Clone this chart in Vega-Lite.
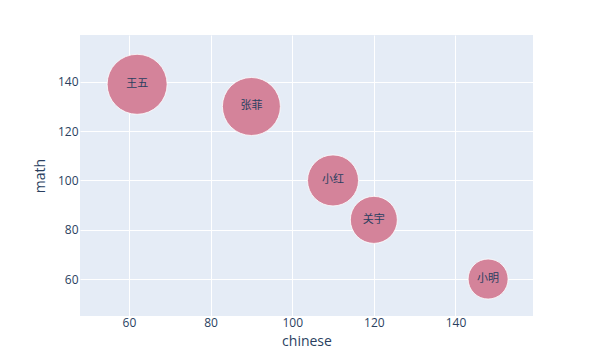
{
  "$schema": "https://vega.github.io/schema/vega-lite/v6.json",
  "autosize": {"type": "none"},
  "width": 453,
  "height": 281,
  "padding": {"left": 80, "top": 35, "right": 67, "bottom": 42},
  "background": "white",
  "config": {
    "view": {"fill": "#E5ECF6", "stroke": null},
    "font": "Open Sans",
    "axis": {
      "domain": false,
      "ticks": false,
      "gridColor": "white",
      "gridWidth": 1,
      "labelColor": "#2a3f5f",
      "labelFontSize": 12,
      "labelFont": "Open Sans",
      "titleColor": "#2a3f5f",
      "titleFontSize": 14,
      "titleFontWeight": "normal",
      "titleFont": "Open Sans"
    }
  },
  "data": {
    "values": [
      {"name": "王五", "chinese": 62, "math": 139, "size": 60},
      {"name": "张菲", "chinese": 90, "math": 130, "size": 58},
      {"name": "小红", "chinese": 110, "math": 100, "size": 51},
      {"name": "关宇", "chinese": 120, "math": 84, "size": 47},
      {"name": "小明", "chinese": 148, "math": 60, "size": 40}
    ]
  },
  "encoding": {
    "x": {
      "field": "chinese",
      "type": "quantitative",
      "scale": {"domain": [48, 159], "nice": false, "zero": false},
      "axis": {"values": [60, 80, 100, 120, 140], "labelPadding": 1, "titlePadding": 6, "title": "chinese"}
    },
    "y": {
      "field": "math",
      "type": "quantitative",
      "scale": {"domain": [45, 159], "nice": false, "zero": false},
      "axis": {"values": [60, 80, 100, 120, 140], "labelPadding": 2, "titlePadding": 10, "title": "math"}
    }
  },
  "layer": [
    {
      "mark": {"type": "circle", "opacity": 1, "color": "#d4839a", "stroke": "white", "strokeWidth": 0.8},
      "encoding": {
        "size": {
          "field": "size",
          "type": "quantitative",
          "scale": {"type": "pow", "exponent": 2, "domain": [0, 60], "range": [0, 3600]},
          "legend": null
        }
      }
    },
    {
      "mark": {"type": "text", "font": "Noto Sans CJK SC", "fontSize": 11, "color": "#2a3f5f"},
      "encoding": {"text": {"field": "name"}}
    }
  ]
}
